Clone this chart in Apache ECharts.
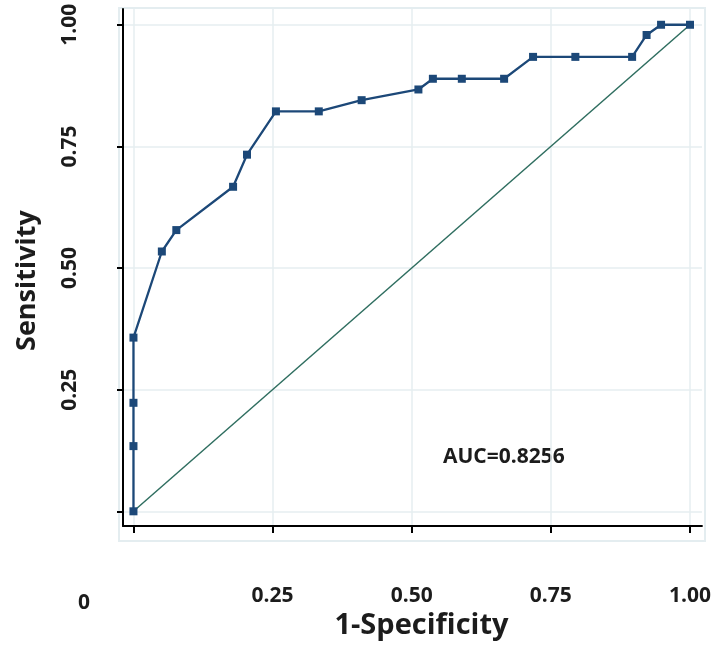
<!DOCTYPE html>
<html>
<head>
<meta charset="utf-8">
<script src="https://cdn.jsdelivr.net/npm/echarts@6/dist/echarts.min.js"></script>
<style>
html,body{margin:0;padding:0;background:#fff;}
#chart{width:714px;height:645px;}
</style>
</head>
<body>
<div id="chart"></div>
<script>
// ROC curve points
const fpr = [0, 0, 0, 0, 0.051, 0.077, 0.179, 0.204, 0.256, 0.333, 0.410, 0.512, 0.538, 0.590, 0.666, 0.718, 0.794, 0.896, 0.922, 0.948, 1.0];
const tpr = [0, 0.134, 0.223, 0.357, 0.534, 0.578, 0.667, 0.733, 0.822, 0.822, 0.845, 0.867, 0.889, 0.889, 0.889, 0.934, 0.934, 0.934, 0.979, 1.0, 1.0];
// reference diagonal
const refX = [0, 1];
const refY = [0, 1];
// tick values / labels
const xTickValues = [0, 0.25, 0.5, 0.75, 1];
const xLabelValues = [0.25, 0.5, 0.75, 1];
const yTickValues = [0, 0.25, 0.5, 0.75, 1];
const yLabelValues = [0.25, 0.5, 0.75, 1];
const originLabel = '0';
const aucText = 'AUC=0.8256';
const xTitle = '1-Specificity';
const yTitle = 'Sensitivity';

const FONT = 'Open Sans';
const chart = echarts.init(document.getElementById('chart'), null, {renderer: 'canvas'});
const fmt = v => v.toFixed(2);
const curve = fpr.map((x, i) => [x, tpr[i]]);
const diag = refX.map((x, i) => [x, refY[i]]);

chart.setOption({
  animation: false,
  backgroundColor: '#ffffff',
  grid: {left: 123, right: 11, top: 9, bottom: 111, containLabel: false},
  xAxis: {
    type: 'value', min: -0.0188, max: 1.0215,
    name: xTitle, nameLocation: 'middle', nameGap: 66,
    nameTextStyle: {fontFamily: FONT, fontWeight: 'bold', fontSize: 29, color: '#1c1c1c', padding: [0, 0, 0, 18]},
    axisLine: {show: true, onZero: false, lineStyle: {color: '#000', width: 2}},
    axisTick: {show: true, length: 7, lineStyle: {color: '#000', width: 2}, customValues: xTickValues},
    axisLabel: {margin: 59, fontFamily: FONT, fontWeight: 'bold', fontSize: 21, color: '#1c1c1c', formatter: fmt, customValues: xLabelValues},
    splitLine: {show: true, lineStyle: {color: '#e6eef0', width: 1.5}}
  },
  yAxis: {
    type: 'value', min: -0.0304, max: 1.0324,
    name: yTitle, nameLocation: 'middle', nameGap: 82, nameRotate: 90,
    nameTextStyle: {fontFamily: FONT, fontWeight: 'bold', fontSize: 27, color: '#1c1c1c', padding: [0, 26, 0, 0]},
    axisLine: {show: true, onZero: false, lineStyle: {color: '#000', width: 2}},
    axisTick: {show: true, length: 6, lineStyle: {color: '#000', width: 2}, customValues: yTickValues},
    axisLabel: {margin: 42, rotate: 90, fontFamily: FONT, fontWeight: 'bold', fontSize: 21, color: '#1c1c1c', formatter: fmt, customValues: yLabelValues},
    splitLine: {show: true, lineStyle: {color: '#e6eef0', width: 1.5}}
  },
  graphic: [
    {type: 'rect', z: -1, silent: true, shape: {x: 119, y: 8, width: 586, height: 533}, style: {fill: 'none', stroke: '#e4edf0', lineWidth: 2}},
    {type: 'text', left: 78, top: 593, style: {text: originLabel, font: 'bold 21px "Open Sans"', fill: '#1c1c1c'}},
    {type: 'text', left: 443, top: 447, style: {text: aucText, font: 'bold 21px "Open Sans"', fill: '#1c1c1c'}}
  ],
  series: [
    {
      type: 'line', data: diag, symbol: 'none', z: 2,
      lineStyle: {color: '#2f6e60', width: 1.5}
    },
    {
      type: 'line', data: curve, symbol: 'rect', symbolSize: 8, z: 3,
      itemStyle: {color: '#1c4878'},
      lineStyle: {color: '#1c4878', width: 2.3}
    }
  ]
});
</script>
</body>
</html>
